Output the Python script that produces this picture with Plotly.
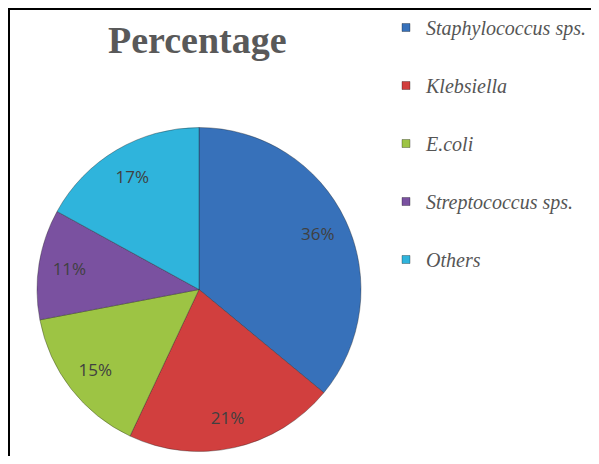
import plotly.graph_objects as go

categories = ["Staphylococcus sps.", "Klebsiella", "E.coli", "Streptococcus sps.", "Others"]
percentages = [36, 21, 15, 11, 17]
colors = ["#3771BA", "#D13F3E", "#9DC444", "#7A51A0", "#2FB4DC"]
title_text = "Percentage"

# page body has an 8px margin; figure is sized to fit inside the window
OFF = 8
W, H = 599 - 2 * OFF, 464 - 2 * OFF


def fx(px):
    return (px - OFF) / W


def fy(py):
    return 1 - (py - OFF) / H


pie_domain = dict(x=[fx(37), fx(361)], y=[fy(454), fy(125)])

fig = go.Figure()
# filled pie
fig.add_trace(go.Pie(
    labels=categories,
    values=percentages,
    sort=False,
    direction="clockwise",
    rotation=0,
    marker=dict(colors=colors, line=dict(color="rgba(30,30,30,0.35)", width=1)),
    textinfo="none",
    domain=pie_domain,
    showlegend=False,
    hoverinfo="label+percent",
))
# transparent ring carrying the percentage labels further out
fig.add_trace(go.Pie(
    labels=categories,
    values=percentages,
    sort=False,
    direction="clockwise",
    rotation=0,
    hole=0.62,
    marker=dict(colors=["rgba(0,0,0,0)"] * len(categories), line=dict(width=0)),
    texttemplate="%{value}%",
    textposition="inside",
    insidetextorientation="horizontal",
    textfont=dict(family="Open Sans", size=17, color="#404040"),
    domain=pie_domain,
    showlegend=False,
    hoverinfo="skip",
))

# legend entries (one group each so spacing can be set)
for name, col in zip(categories, colors):
    fig.add_trace(go.Scatter(
        x=[None], y=[None], mode="markers", name=name,
        marker=dict(symbol="square", size=8, color=col,
                    line=dict(color="rgba(0,0,0,0.3)", width=1)),
        legendgroup=name, showlegend=True,
    ))

fig.update_layout(
    width=W, height=H,
    margin=dict(l=0, r=0, t=0, b=0),
    paper_bgcolor="white", plot_bgcolor="white",
    xaxis=dict(visible=False), yaxis=dict(visible=False),
    showlegend=True,
    legend=dict(
        x=fx(386), y=1.0, xanchor="left", yanchor="top",
        traceorder="grouped", tracegroupgap=29,
        font=dict(family="Liberation Serif", size=20, color="#555555", style="italic"),
        itemwidth=30, bgcolor="rgba(0,0,0,0)",
    ),
    annotations=[dict(
        text="<b>" + title_text + "</b>", x=fx(197), y=fy(40),
        xref="paper", yref="paper", xanchor="center", yanchor="middle",
        showarrow=False,
        font=dict(family="Liberation Serif", size=38, color="#595959"),
    )],
    shapes=[
        dict(type="line", xref="paper", yref="paper", x0=fx(9), x1=fx(9), y0=0, y1=1,
             line=dict(color="black", width=2)),
        dict(type="line", xref="paper", yref="paper", x0=0, x1=1, y0=1 - 1 / H, y1=1 - 1 / H,
             line=dict(color="black", width=2)),
    ],
)

fig.write_html("out.html")
